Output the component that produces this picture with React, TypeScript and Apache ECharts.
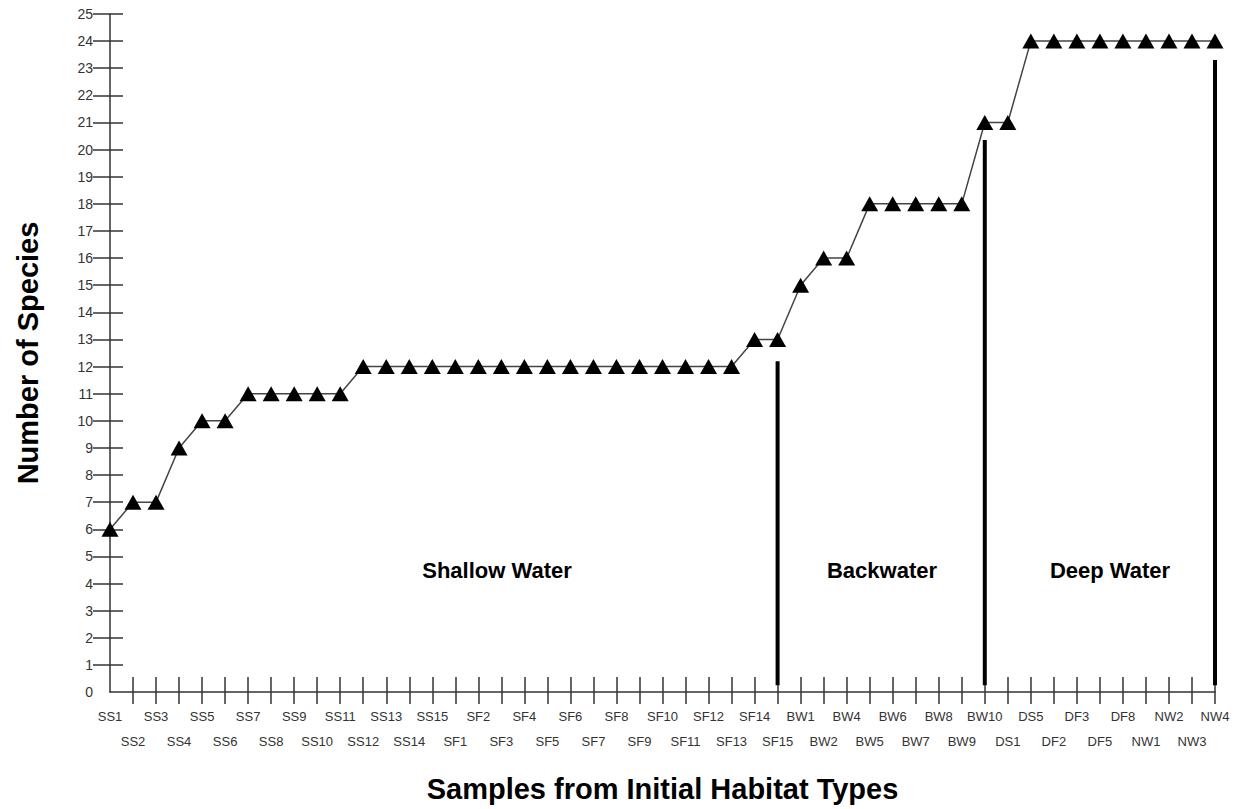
import React, { useEffect, useRef } from "react";
import * as echarts from "echarts";

const categories: string[] = [
  "SS1", "SS2", "SS3", "SS4", "SS5", "SS6", "SS7", "SS8", "SS9", "SS10",
  "SS11", "SS12", "SS13", "SS14", "SS15",
  "SF1", "SF2", "SF3", "SF4", "SF5", "SF6", "SF7", "SF8", "SF9", "SF10",
  "SF11", "SF12", "SF13", "SF14", "SF15",
  "BW1", "BW2", "BW4", "BW5", "BW6", "BW7", "BW8", "BW9", "BW10",
  "DS1", "DS5", "DF2", "DF3", "DF5", "DF8", "NW1", "NW2", "NW3", "NW4",
];

const species: number[] = [
  6, 7, 7, 9, 10, 10, 11, 11, 11, 11,
  11, 12, 12, 12, 12,
  12, 12, 12, 12, 12, 12, 12, 12, 12, 12,
  12, 12, 12, 13, 13,
  15, 16, 16, 18, 18, 18, 18, 18, 21,
  21, 24, 24, 24, 24, 24, 24, 24, 24, 24,
];

// habitat dividers: category index, bottom value, top value
const dividerIndex: number[] = [29, 38, 48];
const dividerBottom: number[] = [0.25, 0.25, 0.25];
const dividerTop: number[] = [12.2, 20.35, 23.3];

const regionLabels: string[] = ["Shallow Water", "Backwater", "Deep Water"];

const yTickValues: number[] = [
  1, 2, 3, 4, 5, 6, 7, 8, 9, 10, 11, 12, 13, 14, 15, 16, 17, 18, 19, 20, 21, 22, 23, 24, 25,
];
const yLabelValues: number[] = [0, ...yTickValues];

const FONT = "'Liberation Sans', Arial, Helvetica, sans-serif";

export default function App() {
  const ref = useRef<HTMLDivElement>(null);

  useEffect(() => {
    if (!ref.current) return;
    const chart = echarts.init(ref.current, undefined, { renderer: "svg" });

    const dividerSeries = dividerIndex.map((idx, i) => ({
      type: "line",
      xAxisIndex: 0,
      yAxisIndex: 0,
      data: [
        [idx, dividerBottom[i]],
        [idx, dividerTop[i]],
      ],
      symbol: "none",
      lineStyle: { color: "#000", width: 4 },
      silent: true,
      z: 3,
    }));

    const regionX = [497, 882, 1110];

    chart.setOption({
      animation: false,
      backgroundColor: "#fff",
      grid: {
        left: 110,
        right: 25,
        top: 14,
        bottom: 117,
        containLabel: false,
        outerBoundsMode: "none",
      },
      xAxis: [
        {
          type: "category",
          data: categories,
          boundaryGap: false,
          position: "bottom",
          name: "Samples from Initial Habitat Types",
          nameLocation: "middle",
          nameGap: 82,
          nameTextStyle: {
            fontFamily: FONT,
            fontSize: 29,
            fontWeight: "bold",
            color: "#000",
          },
          axisLine: { show: true, lineStyle: { color: "#333", width: 1.5 } },
          axisTick: {
            show: true,
            inside: false,
            length: 12,
            interval: (index: number) => index > 0,
            lineStyle: { color: "#333", width: 1.5 },
          },
          axisLabel: {
            interval: 0,
            margin: 12,
            fontFamily: FONT,
            fontSize: 13,
            color: "#333",
            lineHeight: 25,
            verticalAlign: "top",
            formatter: (value: string, index: number) =>
              index % 2 === 0 ? value : "\n" + value,
          },
          splitLine: { show: false },
        },
        {
          type: "category",
          data: categories,
          boundaryGap: false,
          position: "bottom",
          axisLine: { show: false },
          axisTick: {
            show: true,
            inside: true,
            length: 15,
            interval: (index: number) => index > 0,
            lineStyle: { color: "#333", width: 1.5 },
          },
          axisLabel: { show: false },
          splitLine: { show: false },
        },
      ],
      yAxis: [
        {
          type: "value",
          min: 0,
          max: 25,
          interval: 1,
          position: "left",
          name: "Number of Species",
          nameLocation: "middle",
          nameGap: 68,
          nameRotate: 90,
          nameTextStyle: {
            fontFamily: FONT,
            fontSize: 29,
            fontWeight: "bold",
            color: "#000",
          },
          axisLine: { show: true, lineStyle: { color: "#333", width: 1.5 } },
          axisTick: {
            show: true,
            inside: false,
            length: 17,
            customValues: yTickValues,
            lineStyle: { color: "#333", width: 1.5 },
          },
          axisLabel: {
            margin: 17,
            fontFamily: FONT,
            fontSize: 14,
            color: "#333",
            customValues: yLabelValues,
          },
          splitLine: { show: false },
        },
        {
          type: "value",
          min: 0,
          max: 25,
          interval: 1,
          position: "left",
          axisLine: { show: false },
          axisTick: {
            show: true,
            inside: true,
            length: 13,
            customValues: yTickValues,
            lineStyle: { color: "#333", width: 1.5 },
          },
          axisLabel: { show: false },
          splitLine: { show: false },
        },
      ],
      series: [
        {
          type: "line",
          xAxisIndex: 0,
          yAxisIndex: 0,
          data: species,
          symbol: "triangle",
          symbolSize: [17, 15],
          itemStyle: { color: "#000" },
          lineStyle: { color: "#444", width: 1.5 },
          z: 4,
        },
        ...dividerSeries,
      ],
      graphic: regionLabels.map((t, i) => ({
        type: "text",
        x: regionX[i],
        y: 570,
        style: {
          text: t,
          fontFamily: FONT,
          fontSize: 22,
          fontWeight: "bold",
          fill: "#000",
          align: "center",
          verticalAlign: "middle",
        },
      })),
    });

    return () => chart.dispose();
  }, []);

  return (
    <div
      ref={ref}
      style={{ position: "fixed", left: 0, top: 0, width: 1240, height: 809 }}
    />
  );
}
